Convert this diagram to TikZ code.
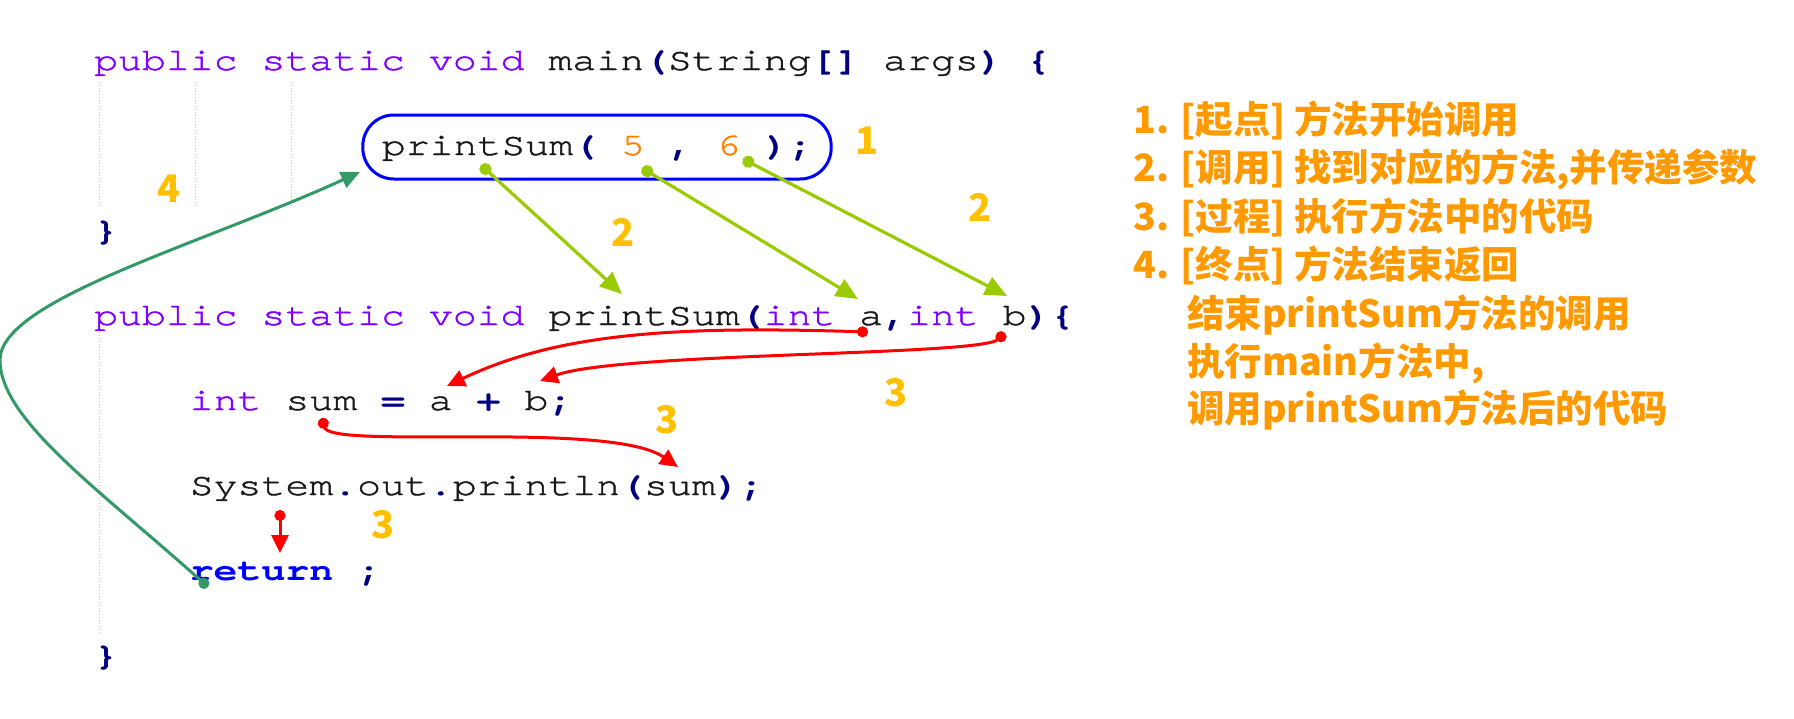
\documentclass[tikz,border=0pt]{standalone}
\usepackage{fontspec}
\usetikzlibrary{arrows.meta}
\newfontfamily\codefont{texgyrecursor}[Extension=.otf,UprightFont=*-regular,BoldFont=*-bold,
  FakeStretch=1.265,UprightFeatures={FakeBold=1.4}]
\newfontfamily\cjk{Noto Sans CJK SC}
\definecolor{kwpurple}{HTML}{8000FF}
\definecolor{opnavy}{HTML}{000080}
\definecolor{numorange}{HTML}{FF8000}
\definecolor{insblue}{HTML}{0000FF}
\definecolor{argcol}{HTML}{99CC00}
\definecolor{retgreen}{HTML}{339966}
\definecolor{stepyellow}{HTML}{FFC000}
\definecolor{noteorange}{HTML}{FF9900}
\newcommand\kw[1]{\textcolor{kwpurple}{#1}}
\newcommand\op[1]{{\bfseries\color{opnavy}#1}}
\newcommand\nm[1]{\textcolor{numorange}{#1}}
\newcommand\ins[1]{{\bfseries\color{insblue}#1}}
\begin{document}
\begin{tikzpicture}[x=1pt,y=-1pt,
  code/.style={anchor=base west,inner sep=0pt,text=black!90,font=\fontsize{31.5}{31.5}\codefont},
  callbox/.style={anchor=center,draw=insblue,line width=3pt,rounded corners=31pt,
    inner xsep=19pt,inner ysep=0pt,minimum height=64pt,text height=24pt,text depth=8pt},
  stepnum/.style={inner sep=0pt,text=stepyellow,font=\fontsize{38}{38}\cjk\bfseries},
  note/.style={anchor=base west,inner sep=0pt,text=noteorange,font=\fontsize{37.5}{37.5}\cjk\bfseries},
  guide/.style={draw=black!25,dotted,line width=1pt},
  param/.style={draw=argcol,line width=3.2pt,{Circle[length=12pt]}-{Triangle[length=22pt,width=19pt]}},
  flow/.style={draw=red,line width=3pt,{Circle[length=11pt]}-{Triangle[length=18pt,width=17pt]}},
  back/.style={draw=retgreen,line width=3pt,{Circle[length=11pt]}-{Triangle[length=19pt,width=17pt]}}]
\useasboundingbox (0,0) rectangle (1794,718);
% code lines
\node[code] (mainsig) at (94,70) {\kw{public static void} main\op{(}String\op{[]} args\op{)} \op{\{}};
\node[code,callbox] (call) at (597,147) {printSum\op{(} \nm{5} \op{,} \nm{6} \op{);}};
\node[code] (mainend) at (94,240) {\op{\}}};
\node[code] (sumsig) at (94,325) {\kw{public static void} printSum\op{(}\kw{int} a\op{,}\kw{int} b\op{)\{}};
\node[code] (sumdecl) at (189.6,410) {\kw{int} sum \op{=} a \op{+} b\op{;}};
\node[code] (println) at (189.6,495) {System\op{.}out\op{.}println\op{(}sum\op{);}};
\node[code] (ret) at (189.6,580) {\ins{return} \op{;}};
\node[code] (sumend) at (94,665) {\op{\}}};
\draw[guide] (99,82) -- (99,208); \draw[guide] (195,82) -- (195,208); \draw[guide] (291,82) -- (291,208);
\draw[guide] (99,332) -- (99,635);
% arrow ends
\coordinate (pName) at (481,165); \coordinate (pFive) at (642,168); \coordinate (pSix) at (743,159);
\coordinate (qName) at (622,294); \coordinate (qA) at (858,299); \coordinate (qB) at (1007,296);
\coordinate (rA) at (868,332); \coordinate (rB) at (1005,333);
\coordinate (sA) at (447,386); \coordinate (sB) at (540,381);
\coordinate (tSum) at (322,418); \coordinate (tOut) at (678,467);
\coordinate (uTop) at (280,510); \coordinate (uBot) at (280,553);
\coordinate (vRet) at (208,587); \coordinate (vLeft) at (0,360); \coordinate (vCall) at (360,172);
\draw[param] (pName) -- (qName);
\draw[param] (pFive) -- (qA);
\draw[param] (pSix) -- (qB);
\draw[flow] (rA) .. controls (680,326) and (560,332) .. (sA);
\draw[flow] (rB) .. controls (980,356) and (620,352) .. (sB);
\draw[flow] (tSum) .. controls (330,450) and (610,420) .. (tOut);
\draw[flow] (uTop) -- (uBot);
\draw[back] (vRet) .. controls (100,490) and (0,420) .. (vLeft) .. controls (0,300) and (200,245) .. (vCall);
% step numbers
\node[stepnum] (n1) at (867,141) {1};
\node[stepnum] (n4) at (169,189) {4};
\node[stepnum] (n2a) at (623,232) {2};
\node[stepnum] (n2b) at (980,207) {2};
\node[stepnum] (n3a) at (896,393) {3};
\node[stepnum] (n3b) at (667,420) {3};
\node[stepnum] (n3c) at (383,525) {3};
% notes
\node[note] (note1) at (1133,133) {1. [起点] 方法开始调用};
\node[note] (note2) at (1133,181) {2. [调用] 找到对应的方法,并传递参数};
\node[note] (note3) at (1133,230) {3. [过程] 执行方法中的代码};
\node[note] (note4) at (1133,278) {4. [终点] 方法结束返回};
\node[note] (note5) at (1187,327) {结束printSum方法的调用};
\node[note] (note6) at (1187,375) {执行main方法中,};
\node[note] (note7) at (1187,422) {调用printSum方法后的代码};
\end{tikzpicture}
\end{document}
